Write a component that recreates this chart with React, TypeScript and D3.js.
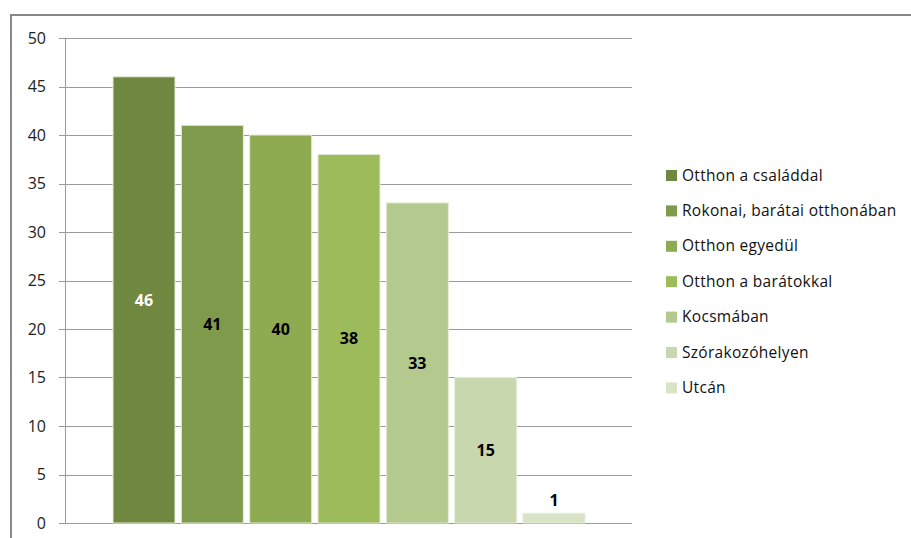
import React from "react";
import * as d3 from "d3";

const seriesNames = [
  "Otthon a családdal",
  "Rokonai, barátai otthonában",
  "Otthon egyedül",
  "Otthon a barátokkal",
  "Kocsmában",
  "Szórakozóhelyen",
  "Utcán",
];
const values = [46, 41, 40, 38, 33, 15, 1];
const colors = ["#6F873F", "#7F9A4A", "#8FAB52", "#9DBB5A", "#B3C98E", "#C8D7AD", "#D9E4C6"];
const labelColors = ["#FFFFFF", "#000000", "#000000", "#000000", "#000000", "#000000", "#000000"];
const yTicks = [0, 5, 10, 15, 20, 25, 30, 35, 40, 45, 50];

const W = 911;
const H = 538;
const plotLeft = 65;
const plotRight = 632;
const plotTop = 38;
const plotBottom = 523;

export default function App() {
  const y = d3.scaleLinear().domain([0, 50]).range([plotBottom, plotTop]);
  const step = 68.33;
  const x = d3
    .scaleBand<string>()
    .domain(seriesNames)
    .range([113, 585])
    .paddingInner((step - 62) / step)
    .paddingOuter(0);
  const bw = x.bandwidth();
  const fontFam = "'Open Sans', 'Noto Sans', sans-serif";
  return (
    <svg
      width={W}
      height={H}
      style={{ position: "absolute", left: 0, top: 0, background: "#fff" }}
      fontFamily={fontFam}
    >
      <rect x={0} y={0} width={W} height={H} fill="#fff" />
      {/* outer border */}
      <line x1={11} y1={15} x2={W} y2={15} stroke="#888" strokeWidth={2} />
      <line x1={11} y1={14} x2={11} y2={H} stroke="#888" strokeWidth={2} />
      {/* gridlines & ticks */}
      {yTicks.map((t) => (
        <g key={t}>
          <line
            x1={59}
            x2={plotRight}
            y1={Math.round(y(t)) + 0.5}
            y2={Math.round(y(t)) + 0.5}
            stroke="#9a9a9a"
            strokeWidth={1}
          />
          <text
            x={46}
            y={y(t)}
            dy="0.36em"
            textAnchor="end"
            fontSize={16}
            fill="#222"
          >
            {t}
          </text>
        </g>
      ))}
      <line x1={plotLeft + 0.5} x2={plotLeft + 0.5} y1={plotTop} y2={plotBottom} stroke="#9a9a9a" />
      {/* bars */}
      {seriesNames.map((s, i) => {
        const x0 = x(s) as number;
        const yTop = y(values[i]);
        return (
          <g key={s}>
            <rect
              x={x0}
              y={yTop}
              width={bw}
              height={plotBottom - yTop}
              fill={colors[i]}
              stroke="#E4EBD6"
              strokeWidth={1}
            />
          </g>
        );
      })}
      {seriesNames.map((s, i) => {
        const x0 = x(s) as number;
        const yTop = y(values[i]);
        const cy = values[i] < 3 ? yTop - 13 : (yTop + plotBottom) / 2;
        return (
          <text
            key={s + "l"}
            x={x0 + bw / 2}
            y={cy}
            dy="0.36em"
            textAnchor="middle"
            fontSize={16}
            fontWeight="bold"
            fill={labelColors[i]}
          >
            {values[i]}
          </text>
        );
      })}
      {/* legend */}
      {seriesNames.map((s, i) => {
        const ly = 175 + i * 35.4;
        return (
          <g key={s + "leg"}>
            <rect x={666} y={ly - 5} width={11} height={11} fill={colors[i]} />
            <text x={682} y={ly} dy="0.36em" fontSize={15.5} letterSpacing={0.3} fill="#111">
              {s}
            </text>
          </g>
        );
      })}
    </svg>
  );
}
